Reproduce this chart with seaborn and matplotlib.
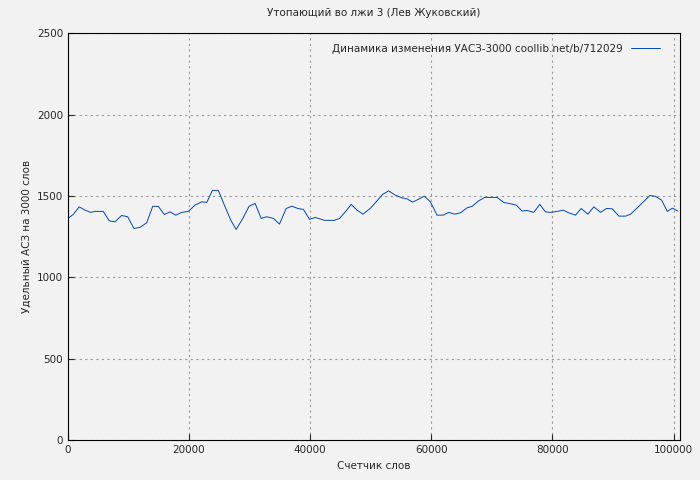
import matplotlib
matplotlib.use("Agg")
import matplotlib.pyplot as plt
import seaborn as sns
import pandas as pd

words = [0,876,1868,2810,3752,4463,5835,6826,7769,8876,9868,10909,11901,13008,14000,14926,15917,16860,17802,18793,19884,20992,22099,22926,23851,24843,25950,26893,27769,28876,29917,30909,31901,32843,33934,34926,36033,36975,37967,38893,39884,40826,42364,43967,44843,45785,46777,47719,48711,49917,51455,52017,52942,54050,55157,55983,56909,57901,58843,59835,60942,61934,62860,63851,64793,65901,66727,67818,68810,70860,71950,73058,74000,74992,75818,76909,77901,78843,79669,80777,81769,82694,83802,84744,85835,86826,87934,88926,89868,90959,92066,92893,93719,96083,97025,98017,98959,99785,100711]
uasz = [1362,1386,1433,1413,1399,1405,1405,1347,1341,1380,1372,1300,1307,1335,1436,1436,1386,1402,1382,1399,1405,1444,1464,1460,1534,1534,1433,1351,1294,1362,1437,1454,1362,1372,1362,1327,1423,1437,1423,1417,1356,1368,1350,1350,1362,1402,1448,1413,1388,1423,1488,1511,1531,1505,1488,1482,1462,1480,1499,1464,1382,1382,1399,1388,1396,1427,1436,1470,1491,1491,1460,1452,1444,1407,1411,1399,1448,1402,1399,1405,1413,1396,1382,1423,1388,1433,1399,1423,1421,1376,1376,1388,1417,1503,1497,1474,1405,1425,1407]
label = "Динамика изменения УАСЗ-3000 coollib.net/b/712029"

df = pd.DataFrame({"x": words, "y": uasz})
sns.set_style("ticks")
plt.rcParams['font.family'] = ['DejaVu Sans']
fig = plt.figure(figsize=(7, 4.8), dpi=100, facecolor="#f2f2f2")
ax = fig.add_axes([0.097, 0.083, 0.874, 0.848])
ax.set_facecolor("#f2f2f2")
sns.lineplot(data=df, x="x", y="y", ax=ax, color="#0047b3", linewidth=0.7, label=label)
ax.set_xlim(0, 101000)
ax.set_ylim(0, 2500)
ax.set_xticks([0, 20000, 40000, 60000, 80000, 100000])
ax.set_yticks([0, 500, 1000, 1500, 2000, 2500])
ax.grid(True, color="#999999", linestyle=(0, (2, 3)), linewidth=0.8)
for s in ax.spines.values():
    s.set_color("black")
ax.tick_params(labelsize=7.5, direction="in", length=4)
ax.set_xlabel("Счетчик слов", fontsize=7.5)
ax.set_ylabel("Удельный АСЗ на 3000 слов", fontsize=7.5)
ax.set_title("Утопающий во лжи 3 (Лев Жуковский)", fontsize=7.5, pad=12)
leg = ax.legend(loc="upper right", frameon=False, fontsize=7.5, markerfirst=False,
                handlelength=2.8, borderaxespad=0.6, bbox_to_anchor=(0.985, 1.0))
fig.savefig("out.png", dpi=100, facecolor=fig.get_facecolor())
